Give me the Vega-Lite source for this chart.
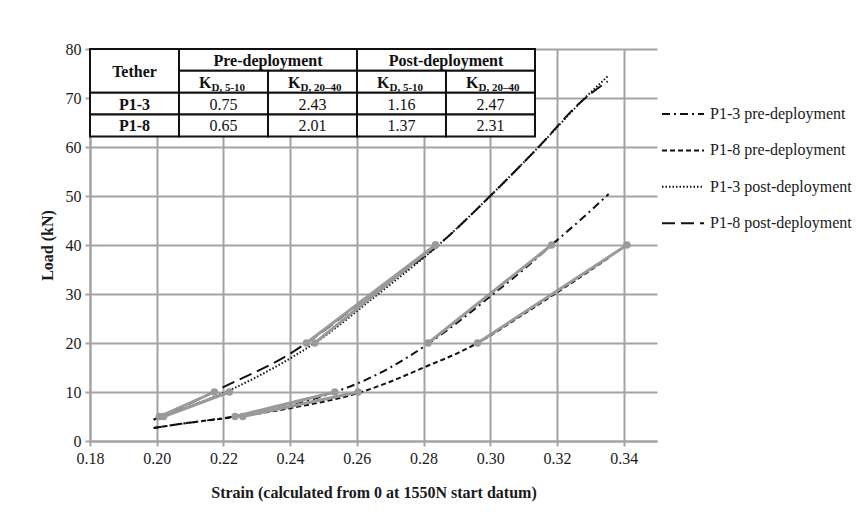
{
  "$schema": "https://vega.github.io/schema/vega-lite/v6.json",
  "width": 567,
  "height": 392,
  "padding": {"left": 39, "top": 41, "right": 5, "bottom": 5},
  "background": "white",
  "config": {
    "font": "Times New Roman",
    "view": {"stroke": null},
    "axis": {
      "gridColor": "#a3a3a3", "gridWidth": 2, "gridOpacity": 1,
      "domainColor": "#a3a3a3", "domainWidth": 2,
      "tickColor": "#a3a3a3", "tickWidth": 2, "tickSize": 5,
      "labelFont": "Times New Roman", "labelFontSize": 16, "labelColor": "#1a1a1a", "labelPadding": 4,
      "labelFlush": false,
      "titleFont": "Liberation Serif", "titleFontSize": 16, "titleFontWeight": "bold", "titleColor": "#1a1a1a"
    }
  },
  "datasets": {
    "curves": [
      {"series": "P1-3 pre-deployment", "strain": 0.1991, "load": 2.65},
      {"series": "P1-3 pre-deployment", "strain": 0.2073, "load": 3.5},
      {"series": "P1-3 pre-deployment", "strain": 0.2233, "load": 5.0},
      {"series": "P1-3 pre-deployment", "strain": 0.24, "load": 7.2},
      {"series": "P1-3 pre-deployment", "strain": 0.2534, "load": 10.0},
      {"series": "P1-3 pre-deployment", "strain": 0.2604, "load": 11.8},
      {"series": "P1-3 pre-deployment", "strain": 0.27, "load": 15.0},
      {"series": "P1-3 pre-deployment", "strain": 0.28, "load": 19.2},
      {"series": "P1-3 pre-deployment", "strain": 0.29, "load": 24.1},
      {"series": "P1-3 pre-deployment", "strain": 0.30, "load": 29.5},
      {"series": "P1-3 pre-deployment", "strain": 0.31, "load": 35.0},
      {"series": "P1-3 pre-deployment", "strain": 0.3184, "load": 40.0},
      {"series": "P1-3 pre-deployment", "strain": 0.3275, "load": 45.4},
      {"series": "P1-3 pre-deployment", "strain": 0.3355, "load": 50.4},
      {"series": "P1-8 pre-deployment", "strain": 0.1991, "load": 2.65},
      {"series": "P1-8 pre-deployment", "strain": 0.2073, "load": 3.5},
      {"series": "P1-8 pre-deployment", "strain": 0.2233, "load": 4.9},
      {"series": "P1-8 pre-deployment", "strain": 0.24, "load": 6.7},
      {"series": "P1-8 pre-deployment", "strain": 0.2604, "load": 9.8},
      {"series": "P1-8 pre-deployment", "strain": 0.27, "load": 12.1},
      {"series": "P1-8 pre-deployment", "strain": 0.2804, "load": 15.1},
      {"series": "P1-8 pre-deployment", "strain": 0.2904, "load": 18.0},
      {"series": "P1-8 pre-deployment", "strain": 0.2962, "load": 20.0},
      {"series": "P1-8 pre-deployment", "strain": 0.31, "load": 25.9},
      {"series": "P1-8 pre-deployment", "strain": 0.32, "load": 30.3},
      {"series": "P1-8 pre-deployment", "strain": 0.3295, "load": 34.6},
      {"series": "P1-8 pre-deployment", "strain": 0.336, "load": 37.6},
      {"series": "P1-3 post-deployment", "strain": 0.1991, "load": 4.35},
      {"series": "P1-3 post-deployment", "strain": 0.21, "load": 7.1},
      {"series": "P1-3 post-deployment", "strain": 0.2223, "load": 10.5},
      {"series": "P1-3 post-deployment", "strain": 0.2373, "load": 15.8},
      {"series": "P1-3 post-deployment", "strain": 0.2474, "load": 20.0},
      {"series": "P1-3 post-deployment", "strain": 0.2664, "load": 30.0},
      {"series": "P1-3 post-deployment", "strain": 0.2845, "load": 40.0},
      {"series": "P1-3 post-deployment", "strain": 0.30, "load": 50.0},
      {"series": "P1-3 post-deployment", "strain": 0.3145, "load": 60.0},
      {"series": "P1-3 post-deployment", "strain": 0.3284, "load": 70.0},
      {"series": "P1-3 post-deployment", "strain": 0.3355, "load": 74.6},
      {"series": "P1-8 post-deployment", "strain": 0.1991, "load": 4.35},
      {"series": "P1-8 post-deployment", "strain": 0.21, "load": 7.7},
      {"series": "P1-8 post-deployment", "strain": 0.22, "load": 11.0},
      {"series": "P1-8 post-deployment", "strain": 0.2404, "load": 18.0},
      {"series": "P1-8 post-deployment", "strain": 0.2449, "load": 20.0},
      {"series": "P1-8 post-deployment", "strain": 0.2645, "load": 30.0},
      {"series": "P1-8 post-deployment", "strain": 0.2845, "load": 40.0},
      {"series": "P1-8 post-deployment", "strain": 0.30, "load": 50.0},
      {"series": "P1-8 post-deployment", "strain": 0.3145, "load": 60.0},
      {"series": "P1-8 post-deployment", "strain": 0.3275, "load": 69.4},
      {"series": "P1-8 post-deployment", "strain": 0.3352, "load": 73.4}
    ],
    "segments": [
      {"seg": "P1-8 post 5-10", "strain": 0.2008, "load": 5},
      {"seg": "P1-8 post 5-10", "strain": 0.2173, "load": 10},
      {"seg": "P1-3 post 5-10", "strain": 0.2021, "load": 5},
      {"seg": "P1-3 post 5-10", "strain": 0.2218, "load": 10},
      {"seg": "P1-8 post 20-40", "strain": 0.2449, "load": 20},
      {"seg": "P1-8 post 20-40", "strain": 0.2836, "load": 40},
      {"seg": "P1-3 post 20-40", "strain": 0.2474, "load": 20},
      {"seg": "P1-3 post 20-40", "strain": 0.2836, "load": 40},
      {"seg": "P1-3 pre 5-10", "strain": 0.2235, "load": 5},
      {"seg": "P1-3 pre 5-10", "strain": 0.2534, "load": 10},
      {"seg": "P1-8 pre 5-10", "strain": 0.2258, "load": 5},
      {"seg": "P1-8 pre 5-10", "strain": 0.2604, "load": 10},
      {"seg": "P1-3 pre 20-40", "strain": 0.2814, "load": 20},
      {"seg": "P1-3 pre 20-40", "strain": 0.3184, "load": 40},
      {"seg": "P1-8 pre 20-40", "strain": 0.2962, "load": 20},
      {"seg": "P1-8 pre 20-40", "strain": 0.341, "load": 40}
    ],
    "cells": [
      {"kind": "head", "label": "Tether", "c0": 0, "c1": 1, "r0": 0, "r1": 2, "tx": 0.5, "ty": 1.0},
      {"kind": "head", "label": "Pre-deployment", "c0": 1, "c1": 3, "r0": 0, "r1": 1, "tx": 2.0, "ty": 0.5},
      {"kind": "head", "label": "Post-deployment", "c0": 3, "c1": 5, "r0": 0, "r1": 1, "tx": 4.0, "ty": 0.5},
      {"kind": "k", "label": "K", "sub": "D, 5-10", "c0": 1, "c1": 2, "r0": 1, "r1": 2, "tx": 1.5, "ty": 1.5},
      {"kind": "k", "label": "K", "sub": "D, 20–40", "c0": 2, "c1": 3, "r0": 1, "r1": 2, "tx": 2.5, "ty": 1.5},
      {"kind": "k", "label": "K", "sub": "D, 5-10", "c0": 3, "c1": 4, "r0": 1, "r1": 2, "tx": 3.5, "ty": 1.5},
      {"kind": "k", "label": "K", "sub": "D, 20–40", "c0": 4, "c1": 5, "r0": 1, "r1": 2, "tx": 4.5, "ty": 1.5},
      {"kind": "head", "label": "P1-3", "c0": 0, "c1": 1, "r0": 2, "r1": 3, "tx": 0.5, "ty": 2.5},
      {"kind": "value", "label": "0.75", "c0": 1, "c1": 2, "r0": 2, "r1": 3, "tx": 1.5, "ty": 2.5},
      {"kind": "value", "label": "2.43", "c0": 2, "c1": 3, "r0": 2, "r1": 3, "tx": 2.5, "ty": 2.5},
      {"kind": "value", "label": "1.16", "c0": 3, "c1": 4, "r0": 2, "r1": 3, "tx": 3.5, "ty": 2.5},
      {"kind": "value", "label": "2.47", "c0": 4, "c1": 5, "r0": 2, "r1": 3, "tx": 4.5, "ty": 2.5},
      {"kind": "head", "label": "P1-8", "c0": 0, "c1": 1, "r0": 3, "r1": 4, "tx": 0.5, "ty": 3.5},
      {"kind": "value", "label": "0.65", "c0": 1, "c1": 2, "r0": 3, "r1": 4, "tx": 1.5, "ty": 3.5},
      {"kind": "value", "label": "2.01", "c0": 2, "c1": 3, "r0": 3, "r1": 4, "tx": 2.5, "ty": 3.5},
      {"kind": "value", "label": "1.37", "c0": 3, "c1": 4, "r0": 3, "r1": 4, "tx": 3.5, "ty": 3.5},
      {"kind": "value", "label": "2.31", "c0": 4, "c1": 5, "r0": 3, "r1": 4, "tx": 4.5, "ty": 3.5}
    ]
  },
  "layer": [
    {
      "encoding": {
        "x": {
          "field": "strain", "type": "quantitative",
          "scale": {"domain": [0.18, 0.35], "nice": false, "zero": false},
          "axis": {
            "title": "Strain (calculated from 0 at 1550N start datum)",
            "values": [0.18, 0.2, 0.22, 0.24, 0.26, 0.28, 0.3, 0.32, 0.34],
            "format": ".2f", "titlePadding": 18
          }
        },
        "y": {
          "field": "load", "type": "quantitative",
          "scale": {"domain": [0, 80], "nice": false},
          "axis": {
            "title": "Load (kN)",
            "values": [0, 10, 20, 30, 40, 50, 60, 70, 80],
            "titlePadding": 10
          }
        }
      },
      "layer": [
        {
          "data": {"name": "curves"},
          "mark": {"type": "line", "interpolate": "monotone", "color": "#111111", "strokeWidth": 2},
          "encoding": {
            "strokeDash": {
              "field": "series", "type": "nominal",
              "scale": {
                "domain": ["P1-3 pre-deployment", "P1-8 pre-deployment", "P1-3 post-deployment", "P1-8 post-deployment"],
                "range": [[8, 4, 2, 4], [5, 3], [1.5, 2], [13, 6]]
              },
              "legend": {
                "title": null, "orient": "none", "legendX": 571, "legendY": 43,
                "padding": 0, "symbolType": "stroke", "symbolSize": 1764,
                "symbolStrokeWidth": 2, "symbolStrokeColor": "#111111",
                "labelFont": "Times New Roman", "labelFontSize": 16, "labelColor": "#1a1a1a",
                "labelOffset": 5, "rowPadding": 6.4
              }
            }
          }
        },
        {
          "data": {"name": "segments"},
          "mark": {
            "type": "line", "color": "#9a9a9a", "strokeWidth": 3,
            "point": {"filled": true, "size": 55, "color": "#9a9a9a", "opacity": 1}
          },
          "encoding": {
            "detail": {"field": "seg", "type": "nominal"}
          }
        }
      ]
    },
    {
      "data": {"name": "cells"},
      "layer": [
        {
          "mark": {"type": "rect", "fill": "white", "stroke": "#111111", "strokeWidth": 2},
          "encoding": {
            "x": {"field": "c0", "type": "quantitative", "scale": {"domain": [0, 6.371], "nice": false, "zero": false}, "axis": null},
            "x2": {"field": "c1"},
            "y": {"field": "r0", "type": "quantitative", "scale": {"domain": [0, 17.94], "nice": false, "reverse": true}, "axis": null},
            "y2": {"field": "r1"}
          }
        },
        {
          "transform": [{"filter": "datum.kind === 'head'"}],
          "mark": {"type": "text", "font": "Liberation Serif", "fontSize": 16, "fontWeight": "bold", "color": "#111111", "baseline": "middle", "dy": 1},
          "encoding": {
            "x": {"field": "tx", "type": "quantitative"},
            "y": {"field": "ty", "type": "quantitative"},
            "text": {"field": "label"}
          }
        },
        {
          "transform": [{"filter": "datum.kind === 'value'"}],
          "mark": {"type": "text", "font": "Times New Roman", "fontSize": 16, "fontWeight": "normal", "color": "#111111", "baseline": "middle", "dy": 1},
          "encoding": {
            "x": {"field": "tx", "type": "quantitative"},
            "y": {"field": "ty", "type": "quantitative"},
            "text": {"field": "label"}
          }
        },
        {
          "transform": [{"filter": "datum.kind === 'k'"}],
          "mark": {"type": "text", "font": "Liberation Serif", "fontSize": 16, "fontWeight": "bold", "color": "#111111", "baseline": "middle", "align": "right", "dx": -12, "dy": 1},
          "encoding": {
            "x": {"field": "tx", "type": "quantitative"},
            "y": {"field": "ty", "type": "quantitative"},
            "text": {"field": "label"}
          }
        },
        {
          "transform": [{"filter": "datum.kind === 'k'"}],
          "mark": {"type": "text", "font": "Liberation Serif", "fontSize": 11, "fontWeight": "bold", "color": "#111111", "baseline": "middle", "align": "left", "dx": -12, "dy": 6},
          "encoding": {
            "x": {"field": "tx", "type": "quantitative"},
            "y": {"field": "ty", "type": "quantitative"},
            "text": {"field": "sub"}
          }
        }
      ]
    }
  ],
  "resolve": {"scale": {"x": "independent", "y": "independent"}}
}
